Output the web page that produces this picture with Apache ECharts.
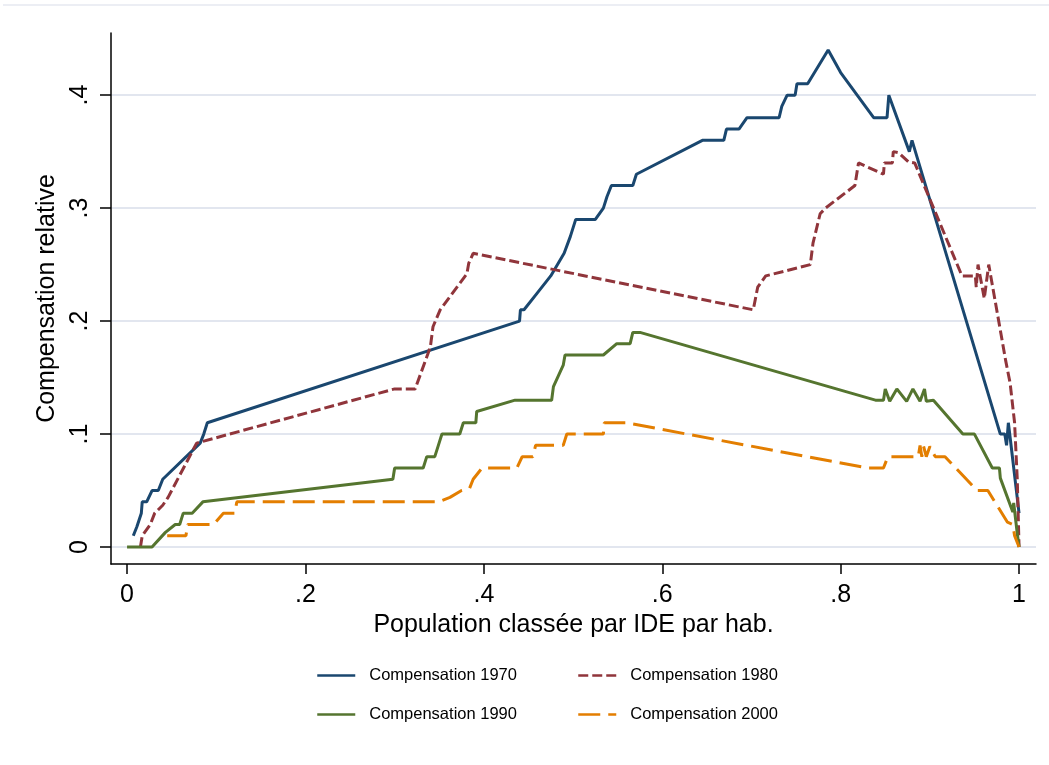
<!DOCTYPE html>
<html>
<head>
<meta charset="utf-8">
<script src="https://cdn.jsdelivr.net/npm/echarts@6/dist/echarts.min.js"></script>
<style>
html,body{margin:0;padding:0;background:#fff;}
#chart{width:1049px;height:765px;}
</style>
</head>
<body>
<div id="chart"></div>
<script>
// ---- data (x = population share ranked by IDE per capita, y = relative compensation) ----
const seriesNames = ['Compensation 1970', 'Compensation 1980', 'Compensation 1990', 'Compensation 2000'];
const xTicks = [0, 0.2, 0.4, 0.6, 0.8, 1];
const yTicks = [0, 0.1, 0.2, 0.3, 0.4];

const comp1970 = [[0.007,0.01],[0.011,0.018],[0.016,0.03],[0.017,0.04],[0.022,0.04],[0.028,0.05],[0.035,0.05],[0.04,0.06],[0.082,0.092],[0.086,0.10],[0.09,0.11],[0.44,0.20],[0.441,0.21],[0.445,0.21],[0.46,0.225],[0.475,0.24],[0.49,0.26],[0.497,0.275],[0.503,0.29],[0.525,0.29],[0.534,0.30],[0.538,0.31],[0.543,0.32],[0.567,0.32],[0.571,0.33],[0.645,0.36],[0.669,0.36],[0.672,0.37],[0.686,0.37],[0.695,0.38],[0.731,0.38],[0.734,0.39],[0.74,0.40],[0.749,0.40],[0.751,0.41],[0.763,0.41],[0.786,0.44],[0.80,0.42],[0.837,0.38],[0.852,0.38],[0.854,0.40],[0.877,0.35],[0.88,0.36],[0.979,0.10],[0.984,0.10],[0.986,0.09],[0.988,0.11],[0.99,0.097],[1.0,0.03]];

const comp1980 = [[0.015,0],[0.017,0.01],[0.026,0.02],[0.031,0.03],[0.04,0.037],[0.046,0.044],[0.078,0.092],[0.30,0.14],[0.323,0.14],[0.34,0.177],[0.343,0.195],[0.351,0.21],[0.381,0.242],[0.383,0.251],[0.388,0.26],[0.702,0.21],[0.707,0.23],[0.716,0.24],[0.766,0.25],[0.769,0.269],[0.777,0.295],[0.783,0.30],[0.816,0.32],[0.82,0.34],[0.848,0.33],[0.849,0.34],[0.858,0.34],[0.859,0.35],[0.865,0.349],[0.876,0.341],[0.883,0.34],[0.936,0.24],[0.951,0.24],[0.952,0.23],[0.954,0.25],[0.961,0.22],[0.966,0.25],[0.979,0.192],[0.985,0.165],[0.99,0.145],[0.995,0.11],[0.998,0.06],[1.0,0.0]];

const comp1990 = [[0,0],[0.028,0],[0.043,0.013],[0.054,0.02],[0.059,0.02],[0.063,0.03],[0.073,0.03],[0.085,0.04],[0.298,0.06],[0.30,0.07],[0.332,0.07],[0.336,0.08],[0.345,0.08],[0.349,0.09],[0.353,0.10],[0.373,0.10],[0.377,0.11],[0.391,0.11],[0.392,0.12],[0.435,0.13],[0.476,0.13],[0.478,0.142],[0.489,0.161],[0.491,0.17],[0.534,0.17],[0.549,0.18],[0.564,0.18],[0.567,0.19],[0.575,0.19],[0.839,0.13],[0.848,0.13],[0.85,0.14],[0.855,0.129],[0.863,0.14],[0.874,0.129],[0.881,0.14],[0.889,0.129],[0.894,0.14],[0.896,0.129],[0.904,0.13],[0.937,0.10],[0.95,0.10],[0.97,0.07],[0.978,0.07],[0.979,0.061],[0.993,0.031],[0.994,0.039],[0.998,0.012],[1.0,0]];

const comp2000 = [[0.045,0.01],[0.066,0.01],[0.068,0.02],[0.097,0.02],[0.108,0.03],[0.121,0.03],[0.123,0.04],[0.349,0.04],[0.362,0.044],[0.375,0.05],[0.384,0.052],[0.388,0.06],[0.398,0.07],[0.437,0.07],[0.443,0.08],[0.455,0.08],[0.458,0.09],[0.489,0.09],[0.493,0.10],[0.534,0.10],[0.535,0.11],[0.56,0.11],[0.83,0.07],[0.848,0.07],[0.853,0.08],[0.887,0.08],[0.889,0.09],[0.891,0.08],[0.893,0.089],[0.896,0.08],[0.90,0.089],[0.906,0.08],[0.917,0.08],[0.953,0.05],[0.965,0.05],[0.987,0.022],[0.993,0.02],[0.995,0.01],[1.0,0.0]];

const seriesData = [comp1970, comp1980, comp1990, comp2000];
const colors = ['#1a476f', '#90353b', '#55752f', '#e37e00'];
const dashes = ['solid', [10, 4], 'solid', [22, 8]];

const FONT = '"Liberation Sans", Arial, Helvetica, sans-serif';
const fmt = v => {
  if (Math.abs(v) < 1e-9) return '0';
  if (Math.abs(v - 1) < 1e-9) return '1';
  return String(Math.round(v * 10) / 10).replace(/^0\./, '.');
};

const chart = echarts.init(document.getElementById('chart'), null, {renderer: 'canvas'});

const legendPos = [[316, 667], [577, 667], [316, 706], [577, 706]];

const option = {
  backgroundColor: '#ffffff',
  animation: false,
  textStyle: {fontFamily: FONT},
  grid: {left: 111, right: 13, top: 33, bottom: 201, containLabel: false},
  graphic: [{
    type: 'line',
    shape: {x1: 3, y1: 5, x2: 1049, y2: 5},
    style: {stroke: '#e6e8f0', lineWidth: 1.5},
    silent: true
  }],
  legend: seriesNames.map((n, i) => ({
    data: [n],
    left: legendPos[i][0],
    top: legendPos[i][1],
    padding: 0,
    itemWidth: 38,
    itemHeight: 16,
    itemGap: 14,
    selectedMode: false,
    itemStyle: {opacity: 0, borderWidth: 0},
    lineStyle: {width: 2.5},
    textStyle: {fontFamily: FONT, fontSize: 16.5, color: '#000', padding: [0, 0, 0, 9]}
  })),
  xAxis: {
    type: 'value',
    min: -0.018,
    max: 1.019,
    name: 'Population classée par IDE par hab.',
    nameLocation: 'middle',
    nameGap: 49,
    nameTextStyle: {fontFamily: FONT, fontSize: 25, color: '#000'},
    axisLine: {show: true, onZero: false, lineStyle: {color: '#000', width: 1.5}},
    axisTick: {show: true, customValues: xTicks, length: 10, lineStyle: {color: '#000', width: 1.5}},
    axisLabel: {show: true, customValues: xTicks, formatter: fmt, fontFamily: FONT, fontSize: 25, color: '#000', margin: 19},
    splitLine: {show: false}
  },
  yAxis: {
    type: 'value',
    min: -0.015,
    max: 0.455,
    name: 'Compensation relative',
    nameLocation: 'middle',
    nameGap: 43,
    nameTextStyle: {fontFamily: FONT, fontSize: 25, color: '#000'},
    axisLine: {show: true, onZero: false, lineStyle: {color: '#000', width: 1.5}},
    axisTick: {show: true, customValues: yTicks, length: 11, lineStyle: {color: '#000', width: 1.5}},
    axisLabel: {show: true, customValues: yTicks, formatter: fmt, rotate: 90, fontFamily: FONT, fontSize: 25, color: '#000', margin: 18},
    splitLine: {show: true, lineStyle: {color: '#e2e6ef', width: 2}}
  },
  series: seriesNames.map((n, i) => ({
    name: n,
    type: 'line',
    data: seriesData[i],
    symbol: 'none',
    showSymbol: false,
    clip: false,
    color: colors[i],
    lineStyle: {color: colors[i], width: 3, type: dashes[i]},
    z: 2 + i
  }))
};

chart.setOption(option);
</script>
</body>
</html>
